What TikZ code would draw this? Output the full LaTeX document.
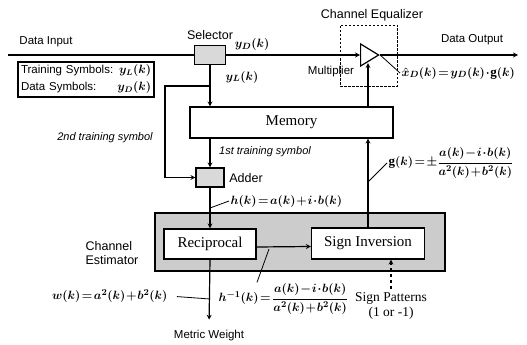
\documentclass[tikz,border=0pt]{standalone}
\usepackage{amsmath,amssymb}
\usepackage{fontspec}
\setmainfont{Liberation Serif}
\setsansfont{Liberation Sans}
\usepackage{tikz}
\usetikzlibrary{shapes,arrows,positioning}

\newcommand{\tightmath}{\thickmuskip=2mu\relax\medmuskip=1mu\relax}

\tikzset{
  txt/.style={font=\sffamily\fontsize{11.5}{13}\selectfont},
  bigtxt/.style={font=\sffamily\fontsize{12.5}{14}\selectfont},
  itxt/.style={font=\sffamily\itshape\fontsize{11}{13}\selectfont},
  mth/.style={font=\boldmath\fontsize{13}{15}\selectfont\tightmath, inner sep=1pt},
  blk/.style={draw, fill=white, font=\fontsize{15}{17}\selectfont},
  swbox/.style={draw, fill=gray!40, inner sep=0pt},
  leader/.style={line width=0.8pt},
}

\begin{document}
\begin{tikzpicture}[x=1pt, y=-1pt, line width=1.2pt, >=stealth]
    \useasboundingbox (0,0) rectangle (527,345);

    % channel estimator
    \node[swbox, minimum width=290pt, minimum height=58pt] (est) at (300,242) {};
    \node[blk, minimum width=92pt, minimum height=30pt] (rec) at (210,244) {Reciprocal};
    \node[blk, minimum width=113pt, minimum height=31pt] (sgn) at (368,243.5) {Sign Inversion};
    \node[bigtxt, align=left] (esttxt) at (112,253) {Channel\\Estimator};

    \node[blk, minimum width=203pt, minimum height=31pt] (mem) at (291.5,122.5) {Memory};
    \node[swbox, fill=gray!30, minimum width=31pt, minimum height=19pt] (sel) at (210,55) {};
    \node[swbox, fill=gray!30, minimum width=28pt, minimum height=19pt] (add) at (210,177.5) {};

    % channel equalizer
    \node[draw, line width=0.9pt, dash pattern=on 2.5pt off 1.5pt,
          minimum width=57pt, minimum height=61pt] (eq) at (368.5,55.5) {};
    \node[draw, fill=white, isosceles triangle, isosceles triangle stretches,
          minimum width=22pt, minimum height=18pt, inner sep=0pt, anchor=lower side] (mult) at (360,55) {};

    \node[txt] (din) at (46,42) {Data Input};
    \node[txt] (dout) at (472,40) {Data Output};
    \node[bigtxt] (seltxt) at (210,35) {Selector};
    \node[bigtxt] (eqtxt) at (372,15) {Channel Equalizer};
    \node[txt] (multtxt) at (331,72) {Multiplier};
    \node[bigtxt] (addtxt) at (246,178) {Adder};
    \node[txt] (mw) at (209,336) {Metric Weight};
    \node[itxt] (tr2) at (105,138) {2nd training symbol};
    \node[itxt] (tr1) at (265,152) {1st training symbol};
    \node[font=\fontsize{13.5}{15}\selectfont, align=center] (sp) at (391,306) {Sign Patterns\\(1 or -1)};

    \node[draw, txt, font=\sffamily\boldmath\fontsize{11.5}{17}\selectfont, text width=130pt, align=left, inner sep=3pt]
        (leg) at (86,79.5) {Training Symbols:\hfill$y_L(k)$\\Data Symbols:\hfill$y_D(k)$};

    \node[mth] (yd) at (252,45) {$y_D(k)$};
    \node[mth] (yl) at (242,77) {$y_L(k)$};
    \node[mth, anchor=west] (xd) at (400,73) {$\hat{x}_D(k)=y_D(k)\cdot \mathrm{g}(k)$};
    \node[mth, anchor=west] (hk) at (229,201) {$h(k)=a(k)+i\cdot b(k)$};
    \node[mth, anchor=west] (gk) at (387,163) {$\mathrm{g}(k)=\pm\dfrac{a(k)-i\cdot b(k)}{a^2(k)+b^2(k)}$};
    \node[mth, anchor=west] (hinv) at (217,299) {$h^{-1}(k)=\dfrac{a(k)-i\cdot b(k)}{a^2(k)+b^2(k)}$};
    \node[mth, anchor=east] (wk) at (169,296) {$w(k)=a^2(k)+b^2(k)$};

    % data path
    \coordinate (in) at (8,55);
    \coordinate (out) at (518,55);
    \coordinate (split) at (210,86);
    \coordinate (bend) at (165,86);
    \draw (in) -- (sel.west);
    \draw[->] (sel.east) -- (mult.lower side);
    \draw[->] (mult.apex) -- (out);
    \draw[->] (sel.south) -- (sel.south |- mem.north);
    \draw[->] (split) -- (bend) |- (add.west);
    \draw[->] (mem.south -| add.north) -- (add.north);
    \draw[->] (add.south) -- (rec.north);
    \draw[->] ([yshift=-3pt]rec.east) -- ([yshift=-3pt]sgn.west);
    \draw[->] (sgn.north) -- (sgn.north |- mem.south);
    \draw[->] (sgn.north |- mem.north) -- (sgn.north |- mult.south);
    \draw[->, shorten >=7pt] (rec.south) -- (mw.north);
    \draw[->, dashed] (sp.north) -- (sp.north |- sgn.south);

    % leaders to the labels
    \coordinate (hpt) at (210,208);
    \coordinate (gpt) at (368,182);
    \coordinate (hipt) at (269,249);
    \coordinate (wpt) at (210,299);
    \draw[leader] (mult.apex) -- (xd.west);
    \draw[leader] (hpt) -- (hk.west);
    \draw[leader] (gpt) -- (gk.west);
    \draw[leader] (hipt) -- ([xshift=40pt]hinv.north west);
    \draw[leader, shorten <=8pt] (wk.east) -- (wpt);
\end{tikzpicture}
\end{document}
